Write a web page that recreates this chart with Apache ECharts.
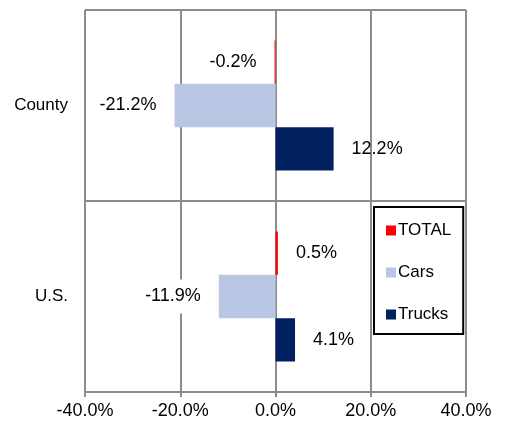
<!DOCTYPE html>
<html>
<head>
<meta charset="utf-8">
<script src="https://cdn.jsdelivr.net/npm/echarts@6/dist/echarts.min.js"></script>
<style>
html, body { margin: 0; padding: 0; background: #fff; }
#main { width: 508px; height: 424px; }
</style>
</head>
<body>
<div id="main"></div>
<script>
// 数据
var categories = ['County', 'U.S.'];
var totalData = [-0.2, 0.5];
var carsData = [-21.2, -11.9];
var trucksData = [12.2, 4.1];
var xTicks = { min: -40, max: 40, interval: 20 };

var fontName = 'Liberation Sans';

// 负值标签放左边，正值放右边
function withLabels(arr) {
	return arr.map(function (v) {
		return { value: v, label: { position: v < 0 ? 'left' : 'right' } };
	});
}

function makeSeries(name, arr, color, labelBg) {
	return {
		name: name,
		type: 'bar',
		data: withLabels(arr),
		barGap: 0,
		barCategoryGap: '32%',
		itemStyle: { color: color },
		label: {
			show: true,
			distance: labelBg ? 16 : 18,
			color: '#000',
			fontFamily: fontName,
			fontSize: 18,
			backgroundColor: labelBg ? '#fff' : 'transparent',
			padding: labelBg ? [8, 2] : 0,
			formatter: function (p) { return p.value.toFixed(1) + '%'; }
		}
	};
}

var myChart = echarts.init(document.getElementById('main'));

var option = {
	animation: false,
	backgroundColor: '#fff',
	grid: { left: 85, right: 42, top: 10, bottom: 32 },
	legend: {
		orient: 'vertical',
		left: 374,
		top: 207,
		data: ['TOTAL', 'Cars', 'Trucks'],
		icon: 'rect',
		itemWidth: 10,
		itemHeight: 10,
		itemGap: 25,
		padding: [15, 12, 11, 12],
		borderColor: '#000',
		borderWidth: 2,
		backgroundColor: '#fff',
		textStyle: { fontFamily: fontName, fontSize: 17, color: '#000', padding: [0, 0, 0, -3] }
	},
	xAxis: {
		type: 'value',
		min: xTicks.min,
		max: xTicks.max,
		interval: xTicks.interval,
		axisLine: { show: true, lineStyle: { color: '#8c8c8c', width: 2 } },
		axisTick: { show: true, length: 5, lineStyle: { color: '#8c8c8c', width: 2 } },
		splitLine: { show: true, lineStyle: { color: '#8c8c8c', width: 2 } },
		axisLabel: {
			color: '#000',
			fontFamily: fontName,
			fontSize: 18,
			margin: 10,
			formatter: function (v) { return v.toFixed(1) + '%'; }
		}
	},
	yAxis: {
		type: 'category',
		inverse: true,
		data: categories,
		axisLine: { show: true, lineStyle: { color: '#8c8c8c', width: 2 } },
		axisTick: { show: false },
		splitLine: { show: true, lineStyle: { color: '#8c8c8c', width: 2 } },
		axisLabel: { color: '#000', fontFamily: fontName, fontSize: 17, margin: 17 }
	},
	series: [
		makeSeries('TOTAL', totalData, '#ff0000', false),
		makeSeries('Cars', carsData, '#b9c7e4', true),
		makeSeries('Trucks', trucksData, '#00205f', false)
	]
};

myChart.setOption(option);

window.addEventListener('resize', function () {
	myChart.resize();
});
</script>
</body>
</html>
